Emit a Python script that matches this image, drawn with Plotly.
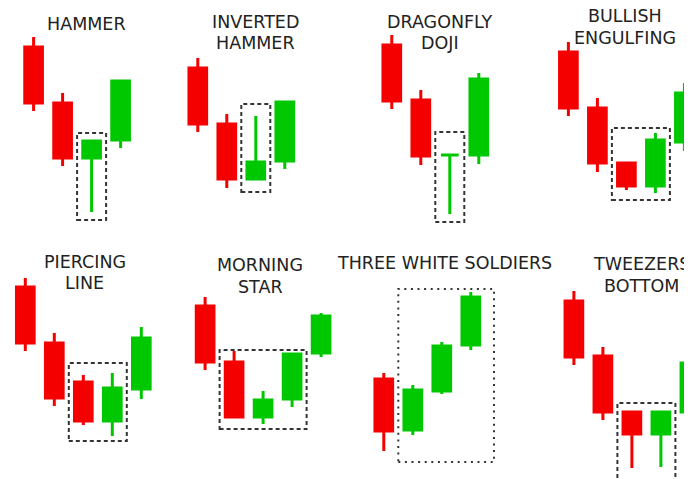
import plotly.graph_objects as go

# pattern names (one panel each, two rows of four)
titles = ["HAMMER", "INVERTED\nHAMMER", "DRAGONFLY\nDOJI", "BULLISH\nENGULFING",
          "PIERCING\nLINE", "MORNING\nSTAR", "THREE WHITE SOLDIERS", "TWEEZERS\nBOTTOM"]

# OHLC per panel
opens = [
    [193, 137, 82, 100],
    [172, 116, 61, 79],
    [195, 140, 85, 85],
    [188, 132, 77, 54, 98],
    [192, 136, 97, 58, 90],
    [173, 117, 62, 80, 126],
    [100, 49, 88, 134],
    [178, 123, 67, 45, 67],
]
highs = [
    [203, 147, 99, 159],
    [182, 126, 124, 138],
    [205, 150, 85, 167],
    [198, 142, 77, 107, 157],
    [201, 146, 104, 106, 152],
    [182, 128, 88, 125, 166],
    [106, 94, 137, 187],
    [188, 132, 67, 67, 116],
]
lows = [
    [129, 74, 28, 92],
    [108, 52, 61, 71],
    [131, 75, 26, 76],
    [124, 68, 50, 47, 89],
    [128, 73, 54, 43, 80],
    [109, 62, 55, 72, 122],
    [28, 44, 85, 129],
    [114, 59, 11, 12, 46],
]
closes = [
    [137, 82, 99, 159],
    [116, 61, 78, 138],
    [139, 84, 85, 161],
    [132, 77, 54, 100, 147],
    [136, 81, 58, 91, 141],
    [117, 62, 79, 125, 163],
    [48, 89, 133, 182],
    [122, 67, 45, 67, 116],
]

# highlighted pattern box (candle-index units / price units)
box_start = [1.5, 1.5, 1.5, 1.5, 1.5, 0.5, 0.5, 1.5]
box_end = [2.5, 2.5, 2.5, 3.5, 3.5, 3.5, 3.8, 3.5]
box_low = [20, 48, 18, 40, 38, 50, 17, -10]
box_high = [107, 136, 108, 112, 116, 129, 190, 76]

# layout, in page pixels (the page body adds an 8px margin)
W, H = 692, 479
PAD = 8
FW, FH = W - PAD, H - PAD
SLOT = 29
first_center = [33.6, 197.8, 391.8, 568.4, 25.3, 205.1, 383.8, 573.9]
title_x = [86, 255, 440, 625, 84.5, 260, 444, 641]
title_y = [24, 21.7, 21.7, 16, 261.7, 265, 262.7, 264]
LINE_GAP = 21.6
row_base = [240, 479]  # page y where price 0 sits for each row

RED = "#F40000"
GREEN = "#00C800"


def fx(px):
    return (px - PAD) / FW


def fy(py):
    return 1 - (py - PAD) / FH


fig = go.Figure()
layout_axes = {}
shapes = []
annotations = []

for i in range(8):
    k = "" if i == 0 else str(i + 1)
    n = len(opens[i])
    row = 0 if i < 4 else 1
    c0 = first_center[i]

    fig.add_trace(go.Candlestick(
        x=list(range(n)),
        open=opens[i], high=highs[i], low=lows[i], close=closes[i],
        increasing=dict(line=dict(color=GREEN, width=3), fillcolor=GREEN),
        decreasing=dict(line=dict(color=RED, width=3), fillcolor=RED),
        whiskerwidth=0,
        xaxis="x" + k, yaxis="y" + k,
        showlegend=False,
    ))

    left = max(PAD, c0 - 0.6 * SLOT)
    right = min(W, c0 + (n - 0.1) * SLOT)
    layout_axes["xaxis" + k] = dict(
        domain=[fx(left), fx(right)],
        range=[(left - c0) / SLOT, (right - c0) / SLOT],
        visible=False, fixedrange=True, anchor="y" + k,
        rangeslider=dict(visible=False),
    )
    top = PAD if row == 0 else row_base[0]
    bottom = row_base[row]
    layout_axes["yaxis" + k] = dict(
        domain=[fy(bottom), fy(top)],
        range=[0, bottom - top],
        visible=False, fixedrange=True, anchor="x" + k,
    )

    dash = "2px,4.6px" if titles[i] == "THREE WHITE SOLDIERS" else "4px,3px"
    shapes.append(dict(
        type="rect", xref="x" + k, yref="y" + k,
        x0=box_start[i], x1=box_end[i], y0=box_low[i], y1=box_high[i],
        line=dict(color="#333333", width=2, dash=dash),
        fillcolor="rgba(0,0,0,0)",
    ))

    for j, line in enumerate(titles[i].split("\n")):
        annotations.append(dict(
            text=line, xref="paper", yref="paper",
            x=fx(title_x[i]), y=fy(title_y[i] + j * LINE_GAP),
            xanchor="center", yanchor="middle", showarrow=False,
            font=dict(family="DejaVu Sans", size=17.5, color="#222222"),
        ))

fig.update_layout(
    width=FW, height=FH,
    margin=dict(l=0, r=0, t=0, b=0),
    paper_bgcolor="white", plot_bgcolor="rgba(0,0,0,0)",
    boxgap=0.39, boxgroupgap=0,
    shapes=shapes, annotations=annotations,
    **layout_axes,
)

fig.write_html("out.html")
